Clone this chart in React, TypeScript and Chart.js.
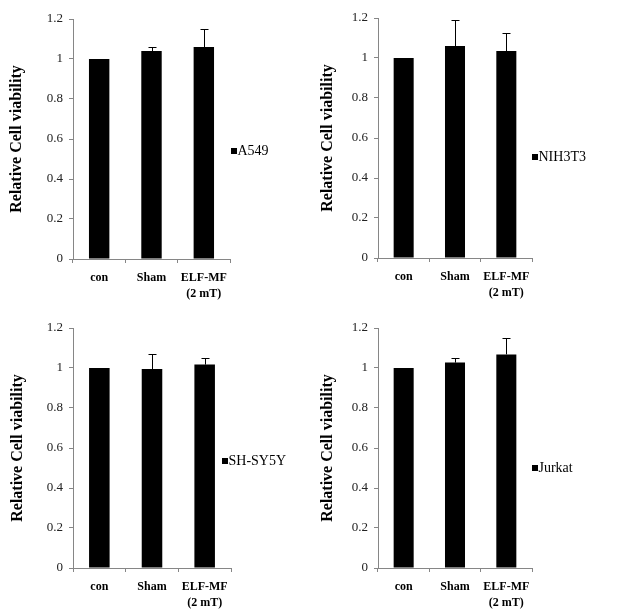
import React, { useEffect, useRef } from 'react';
import { Chart, registerables } from 'chart.js';

Chart.register(...registerables);

// ---- data ----
const categories: (string | string[])[] = ['con', 'Sham', ['ELF-MF', '(2 mT)']];
const yTickValues = [0, 0.2, 0.4, 0.6, 0.8, 1, 1.2];
const yAxisTitle = 'Relative Cell viability';

const a549Label = 'A549';
const a549Values = [1.0, 1.04, 1.06];
const a549Errors = [0, 0.02, 0.09];

const nih3t3Label = 'NIH3T3';
const nih3t3Values = [1.0, 1.06, 1.035];
const nih3t3Errors = [0, 0.13, 0.09];

const shsy5yLabel = 'SH-SY5Y';
const shsy5yValues = [1.0, 0.995, 1.017];
const shsy5yErrors = [0, 0.075, 0.035];

const jurkatLabel = 'Jurkat';
const jurkatValues = [1.0, 1.027, 1.068];
const jurkatErrors = [0, 0.025, 0.082];

// ---- layout (page coordinates) ----
type Panel = {
  label: string;
  values: number[];
  errors: number[];
  canvas: { x: number; y: number; w: number; h: number };
  area: { l: number; t: number; r: number; b: number };
  legend: { x: number; y: number };
  titleX: number;
};

const panels: Panel[] = [
  {
    label: a549Label, values: a549Values, errors: a549Errors,
    canvas: { x: 0, y: 0, w: 311, h: 305 },
    area: { l: 73, t: 19, r: 230, b: 259 },
    legend: { x: 231, y: 151 }, titleX: 17,
  },
  {
    label: nih3t3Label, values: nih3t3Values, errors: nih3t3Errors,
    canvas: { x: 305, y: 0, w: 317, h: 305 },
    area: { l: 378, t: 18, r: 532, b: 258 },
    legend: { x: 532, y: 157 }, titleX: 327.5,
  },
  {
    label: shsy5yLabel, values: shsy5yValues, errors: shsy5yErrors,
    canvas: { x: 0, y: 305, w: 311, h: 311 },
    area: { l: 73, t: 328, r: 231, b: 568 },
    legend: { x: 222, y: 461 }, titleX: 17.5,
  },
  {
    label: jurkatLabel, values: jurkatValues, errors: jurkatErrors,
    canvas: { x: 305, y: 305, w: 317, h: 311 },
    area: { l: 378, t: 328, r: 532, b: 568 },
    legend: { x: 532, y: 468 }, titleX: 327.5,
  },
];

const SERIF = '"Liberation Serif", "Times New Roman", serif';
const AXIS_COLOR = '#868686';

const errorBarPlugin = {
  id: 'errorBars',
  afterDatasetsDraw(chart: any, _args: any, opts: any) {
    const errs: number[] = opts.errors || [];
    const meta = chart.getDatasetMeta(0);
    const ys = chart.scales.y;
    const vals = chart.data.datasets[0].data as number[];
    const ctx = chart.ctx;
    ctx.save();
    ctx.strokeStyle = '#000';
    ctx.lineWidth = 1;
    meta.data.forEach((bar: any, i: number) => {
      const e = errs[i];
      if (!e) return;
      const x = Math.round(bar.x) + 0.5;
      const y0 = ys.getPixelForValue(vals[i]);
      const y1 = Math.round(ys.getPixelForValue(vals[i] + e)) + 0.5;
      ctx.beginPath();
      ctx.moveTo(x, y0);
      ctx.lineTo(x, y1);
      ctx.moveTo(x - 4, y1);
      ctx.lineTo(x + 4, y1);
      ctx.stroke();
    });
    ctx.restore();
  },
};

const customLegendPlugin = {
  id: 'customLegend',
  afterDraw(chart: any, _args: any, opts: any) {
    const ctx = chart.ctx;
    const label = chart.data.datasets[0].label;
    ctx.save();
    ctx.fillStyle = '#000';
    ctx.fillRect(opts.x, opts.y - 3, 6, 6);
    ctx.font = `14px ${SERIF}`;
    ctx.textBaseline = 'middle';
    ctx.textAlign = 'left';
    ctx.fillText(label, opts.x + 6.5, opts.y + 0.5);
    ctx.restore();
  },
};

function PanelChart({ p }: { p: Panel }) {
  const ref = useRef<HTMLCanvasElement>(null);
  useEffect(() => {
    if (!ref.current) return;
    const yAxisWidth = p.area.l - p.canvas.x;
    const xAxisHeight = p.canvas.y + p.canvas.h - p.area.b;
    const padTop = p.area.t - p.canvas.y;
    const padRight = p.canvas.x + p.canvas.w - p.area.r;
    const titleCenter = p.titleX - p.canvas.x;
    const chart = new Chart(ref.current, {
      type: 'bar',
      data: {
        labels: categories as any,
        datasets: [
          {
            label: p.label,
            data: p.values,
            backgroundColor: '#000',
            borderWidth: 0,
            barPercentage: 0.39,
            categoryPercentage: 1,
          },
        ],
      },
      options: {
        responsive: false,
        animation: false,
        devicePixelRatio: 1,
        layout: { padding: { top: padTop, right: padRight, left: 0, bottom: 0 } },
        plugins: {
          legend: { display: false },
          tooltip: { enabled: false },
          errorBars: { errors: p.errors },
          customLegend: { x: p.legend.x - p.canvas.x, y: p.legend.y - p.canvas.y },
        } as any,
        scales: {
          x: {
            type: 'category',
            offset: true,
            grid: {
              display: true,
              drawOnChartArea: false,
              drawTicks: true,
              tickLength: 4,
              color: AXIS_COLOR,
              offset: true,
            },
            border: { display: true, color: AXIS_COLOR, width: 1 },
            ticks: {
              color: '#000',
              font: { family: SERIF, size: 12, weight: 'bold', lineHeight: 1.35 },
              padding: 7,
              maxRotation: 0,
              autoSkip: false,
            },
            afterFit: (s: any) => { s.height = xAxisHeight; },
          },
          y: {
            min: 0,
            max: 1.2,
            afterBuildTicks: (s: any) => { s.ticks = yTickValues.map((v) => ({ value: v })); },
            grid: {
              display: true,
              drawOnChartArea: false,
              drawTicks: true,
              tickLength: 4,
              color: AXIS_COLOR,
            },
            border: { display: true, color: AXIS_COLOR, width: 1 },
            ticks: {
              color: '#222',
              font: { family: SERIF, size: 13 },
              padding: 6,
              callback: (v: any) => String(Math.round(Number(v) * 10) / 10),
            },
            title: {
              display: true,
              text: yAxisTitle,
              color: '#000',
              font: { family: SERIF, size: 16, weight: 'bold', lineHeight: 1.2 },
              padding: { top: titleCenter - 9.6, bottom: 0 },
            },
            afterFit: (s: any) => { s.width = yAxisWidth; },
          },
        },
      } as any,
      plugins: [errorBarPlugin, customLegendPlugin],
    });
    return () => chart.destroy();
  }, [p]);
  return (
    <canvas
      ref={ref}
      width={p.canvas.w}
      height={p.canvas.h}
      style={{ position: 'absolute', left: p.canvas.x, top: p.canvas.y, width: p.canvas.w, height: p.canvas.h }}
    />
  );
}

export default function App() {
  return (
    <div style={{ position: 'fixed', left: 0, top: 0, width: 622, height: 616, background: '#fff', overflow: 'hidden' }}>
      {panels.map((p, i) => (
        <PanelChart key={i} p={p} />
      ))}
    </div>
  );
}
